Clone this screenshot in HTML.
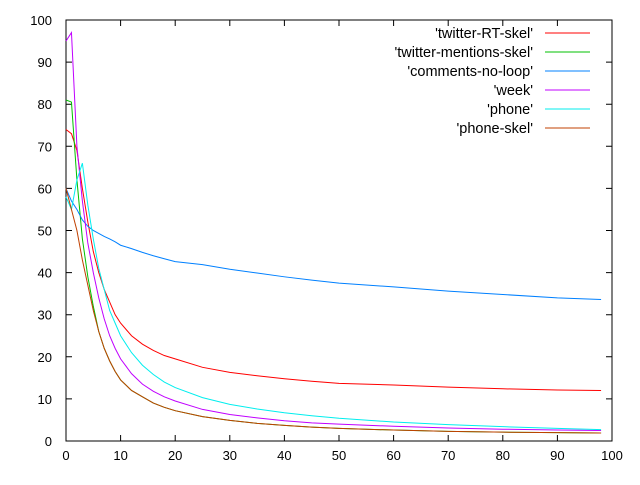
<!DOCTYPE html>
<html><head><meta charset="utf-8"><style>
body{margin:0;background:#fff}
svg text{font-family:"Liberation Sans",sans-serif;font-size:13px;fill:#000}
svg text.lg{font-size:14.5px}
</style></head><body>
<svg id="c" width="640" height="480"></svg>
<script>
const xs=[0,1,2,3,4,5,6,7,8,9,10,12,14,16,18,20,25,30,35,40,45,50,60,70,80,90,98];
const twitterRT=[74,73,69,60,52,45,40,36,33,30,28,25,23,21.5,20.3,19.5,17.5,16.3,15.5,14.8,14.2,13.7,13.3,12.8,12.4,12.1,12];
const twitterMentions=[81,80.5,62,48,39,32,26,22,19,16.5,14.5,12,10.5,9,8,7.2,5.8,4.9,4.2,3.7,3.3,3.0,2.6,2.3,2.1,2.0,1.9];
const comments=[60,57,55,52.5,51,50,49.3,48.6,48,47.3,46.5,45.7,44.8,44,43.3,42.6,41.9,40.8,39.9,39,38.2,37.5,36.6,35.6,34.8,34,33.6];
const week=[95,97,70,57,47,40,34,29,25,22,19.5,16,13.5,11.8,10.5,9.5,7.5,6.3,5.5,4.8,4.3,4.0,3.5,3.1,2.8,2.6,2.5];
const phone=[58,55,62,66,56,48,41,36,31,28,25,21,18,15.8,14,12.7,10.3,8.7,7.6,6.7,6.0,5.4,4.5,3.9,3.4,3.0,2.7];
const phoneSkel=[60,55,50,43,37,31,26,22,19,16.5,14.5,12,10.5,9,8,7.2,5.8,4.9,4.2,3.7,3.3,3.0,2.6,2.3,2.1,2.0,1.9];
const xTicks=[0,10,20,30,40,50,60,70,80,90,100];
const yTicks=[0,10,20,30,40,50,60,70,80,90,100];
const seriesNames=["'twitter-RT-skel'","'twitter-mentions-skel'","'comments-no-loop'","'week'","'phone'","'phone-skel'"];
const seriesData=[twitterRT,twitterMentions,comments,week,phone,phoneSkel];
const colors=["#ff0000","#00c000","#0080ff","#c000ff","#00eeee","#c04000"];
const L=66,R=612,T=20,B=441;
const sx=v=>L+(v-0)/100*(R-L);
const sy=v=>B-(v-0)/100*(B-T);
const svg=document.getElementById('c');
const NS='http://www.w3.org/2000/svg';
function mk(t,a){const e=document.createElementNS(NS,t);for(const k in a)e.setAttribute(k,a[k]);svg.appendChild(e);return e;}
const fr=mk('rect',{x:L,y:T,width:R-L,height:B-T,fill:'none',stroke:'#000','stroke-width':1});


xTicks.forEach(v=>{
  const x=sx(v);
  const t=mk('path',{d:`M${x},${B}v-6M${x},${T}v6`,stroke:'#000'});
  
  
  const l=mk('text',{x:x,y:B+19,'text-anchor':'middle'});l.textContent=v;
  
  
});
yTicks.forEach(v=>{
  const y=sy(v);
  const t=mk('path',{d:`M${L},${y}h6M${R},${y}h-6`,stroke:'#000'});
  
  
  const l=mk('text',{x:L-14,y:y+5,'text-anchor':'end'});l.textContent=v;
  
  
});
seriesData.forEach((d,i)=>{
  const p=mk('polyline',{points:d.map((v,j)=>sx(xs[j])+','+sy(v)).join(' '),fill:'none',stroke:colors[i],'stroke-width':1});
  
  
  const y=33+i*19;
  const t=mk('text',{x:533,y:y+5,'text-anchor':'end','class':'lg'});t.textContent=seriesNames[i];
  
  
  const s=mk('line',{x1:545,x2:590,y1:y,y2:y,stroke:colors[i]});
  
  
});
</script>
</body></html>
